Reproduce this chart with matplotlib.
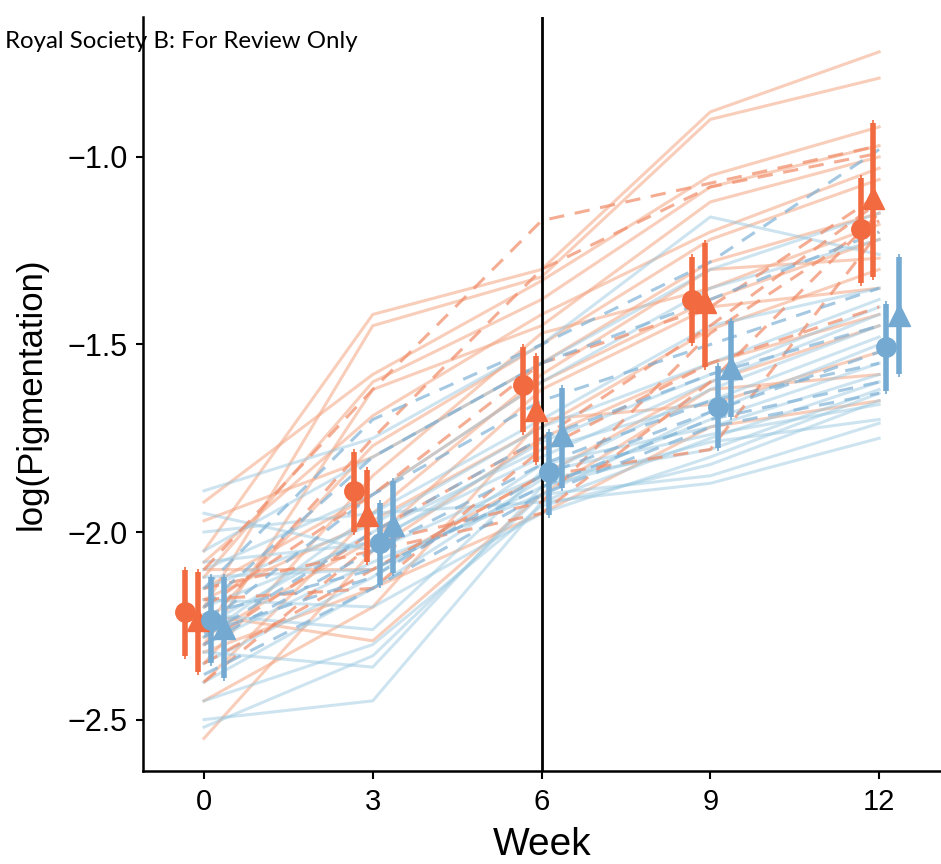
import matplotlib
matplotlib.use("Agg")
import matplotlib.pyplot as plt
from matplotlib import font_manager as fm

weeks = [0, 3, 6, 9, 12]

# individual trajectories, values at weeks 0, 3, 6, 9, 12
orange_solid = [
    [-2.05, -1.42, -1.30, -0.88, -0.72],
    [-2.20, -1.45, -1.32, -0.90, -0.79],
    [-1.92, -1.58, -1.33, -1.05, -0.92],
    [-2.12, -1.60, -1.38, -1.08, -0.97],
    [-2.30, -1.62, -1.45, -1.12, -1.00],
    [-2.08, -1.69, -1.42, -1.20, -1.03],
    [-2.25, -1.77, -1.50, -1.22, -1.06],
    [-1.97, -1.80, -1.55, -1.28, -1.15],
    [-2.35, -1.85, -1.47, -1.35, -1.18],
    [-2.15, -1.90, -1.60, -1.38, -1.22],
    [-2.40, -1.95, -1.58, -1.30, -1.27],
    [-2.18, -1.97, -1.72, -1.46, -1.30],
    [-2.28, -2.02, -1.62, -1.40, -1.35],
    [-2.55, -2.05, -1.75, -1.55, -1.42],
    [-2.10, -2.10, -1.85, -1.60, -1.45],
    [-2.45, -2.20, -1.70, -1.66, -1.52],
    [-2.22, -2.29, -1.90, -1.62, -1.58],
    [-2.32, -2.15, -1.95, -1.72, -1.65],
]
orange_dashed = [
    [-2.10, -1.62, -1.17, -1.07, -0.97],
    [-2.25, -1.75, -1.30, -1.08, -0.99],
    [-2.20, -1.90, -1.55, -1.40, -1.10],
    [-2.30, -2.00, -1.75, -1.45, -1.12],
    [-2.15, -2.05, -1.95, -1.60, -1.15],
    [-2.35, -2.10, -1.85, -1.78, -1.20],
    [-2.18, -2.15, -1.78, -1.55, -1.40],
    [-2.40, -2.03, -1.92, -1.47, -1.17],
]
blue_solid = [
    [-1.89, -1.75, -1.50, -1.16, -1.26],
    [-2.05, -1.80, -1.55, -1.30, -1.15],
    [-2.10, -1.90, -1.60, -1.35, -1.22],
    [-2.00, -1.95, -1.70, -1.45, -1.35],
    [-2.15, -1.98, -1.72, -1.55, -1.38],
    [-2.20, -2.02, -1.80, -1.60, -1.42],
    [-1.95, -2.05, -1.85, -1.62, -1.45],
    [-2.25, -2.00, -1.78, -1.65, -1.48],
    [-2.30, -2.08, -1.90, -1.68, -1.50],
    [-2.12, -2.10, -1.88, -1.70, -1.55],
    [-2.35, -2.12, -1.82, -1.72, -1.58],
    [-2.28, -1.95, -1.92, -1.75, -1.60],
    [-2.40, -2.15, -1.86, -1.78, -1.62],
    [-2.18, -2.20, -1.95, -1.80, -1.63],
    [-2.45, -2.30, -1.93, -1.82, -1.65],
    [-2.32, -2.36, -1.88, -1.76, -1.70],
    [-2.50, -2.45, -1.92, -1.87, -1.75],
    [-2.52, -2.33, -1.90, -1.85, -1.71],
    [-2.22, -2.26, -1.84, -1.74, -1.66],
    [-2.08, -2.03, -1.76, -1.58, -1.40],
]
blue_dashed = [
    [-2.15, -1.70, -1.50, -1.28, -0.98],
    [-2.20, -1.80, -1.55, -1.38, -1.20],
    [-2.25, -1.90, -1.65, -1.50, -1.35],
    [-2.28, -2.00, -1.75, -1.58, -1.45],
    [-2.30, -2.05, -1.82, -1.65, -1.55],
    [-2.22, -2.10, -1.88, -1.70, -1.60],
    [-2.38, -2.15, -1.90, -1.72, -1.63],
    [-2.27, -2.12, -1.85, -1.68, -1.52],
]

# group means and interval ends
mean_orange_circle = [-2.213, -1.891, -1.608, -1.381, -1.192]
lo_orange_circle = [-2.33, -2.00, -1.733, -1.496, -1.336]
hi_orange_circle = [-2.10, -1.787, -1.507, -1.267, -1.056]

mean_orange_tri = [-2.235, -1.955, -1.675, -1.387, -1.109]
lo_orange_tri = [-2.373, -2.08, -1.813, -1.56, -1.32]
hi_orange_tri = [-2.107, -1.835, -1.53, -1.229, -0.909]

mean_blue_circle = [-2.235, -2.029, -1.84, -1.667, -1.507]
lo_blue_circle = [-2.35, -2.141, -1.955, -1.776, -1.624]
hi_blue_circle = [-2.12, -1.923, -1.733, -1.557, -1.392]

mean_blue_tri = [-2.256, -1.98, -1.74, -1.563, -1.421]
lo_blue_tri = [-2.39, -2.109, -1.883, -1.693, -1.579]
hi_blue_tri = [-2.12, -1.864, -1.616, -1.437, -1.267]

ORANGE = "#f26b40"
BLUE = "#74aad2"
LIGHT_ORANGE = "#f4a582"
LIGHT_BLUE = "#92c5de"

names = {f.name for f in fm.fontManager.ttflist}
narrow = "Liberation Sans Narrow" if "Liberation Sans Narrow" in names else "Liberation Sans"

plt.rcParams["font.family"] = ["Liberation Sans", "DejaVu Sans"]

fig = plt.figure(figsize=(9.41, 8.64), dpi=100)
ax = fig.add_axes([143 / 941, 93 / 864, 1 - 143 / 941, (771 - 17) / 864])

for row in orange_solid:
    ax.plot(weeks, row, color=LIGHT_ORANGE, alpha=0.55, lw=2.2, zorder=2)
for row in blue_solid:
    ax.plot(weeks, row, color=LIGHT_BLUE, alpha=0.45, lw=2.2, zorder=2)
for row in orange_dashed:
    ax.plot(weeks, row, color="#f08a66", alpha=0.7, lw=2.2, ls=(0, (5, 3.5)), zorder=3)
for row in blue_dashed:
    ax.plot(weeks, row, color="#7fb2d6", alpha=0.7, lw=2.2, ls=(0, (5, 3.5)), zorder=3)

ax.axvline(6, color="black", lw=2, zorder=4)


def draw_group(offset, mean, lo, hi, color, marker, size):
    xs = [w + offset for w in weeks]
    ext = 0.008
    ax.vlines(xs, [v - ext for v in lo], [v + ext for v in hi], color=color, lw=1.2, zorder=5)
    ax.vlines(xs, lo, hi, color=color, lw=4, zorder=5)
    ax.plot(xs, mean, ls="none", marker=marker, ms=size, color=color, mec=color, zorder=6)


draw_group(-0.33, mean_orange_circle, lo_orange_circle, hi_orange_circle, ORANGE, "o", 14)
draw_group(-0.10, mean_orange_tri, lo_orange_tri, hi_orange_tri, ORANGE, "^", 16)
draw_group(0.13, mean_blue_circle, lo_blue_circle, hi_blue_circle, BLUE, "o", 14)
draw_group(0.36, mean_blue_tri, lo_blue_tri, hi_blue_tri, BLUE, "^", 16)

ax.set_xlim(-1.084, 13.1)
ax.set_ylim(-2.637, -0.627)
ax.set_xticks(weeks)
ax.set_yticks([-2.5, -2.0, -1.5, -1.0])
ax.set_yticklabels(["\u22122.5", "\u22122.0", "\u22121.5", "\u22121.0"])

for side in ["top", "right"]:
    ax.spines[side].set_visible(False)
for side in ["left", "bottom"]:
    ax.spines[side].set_linewidth(1.8)

ax.tick_params(axis="y", direction="out", length=5, width=1.5, labelsize=22, pad=6)
ax.tick_params(axis="x", direction="out", length=6, width=1.5, labelsize=21, pad=6)
for lab in ax.get_xticklabels():
    lab.set_family(narrow)

ax.set_ylabel("log(Pigmentation)", fontsize=25, labelpad=14)
ax.set_xlabel("Week", fontsize=28, family=narrow, labelpad=8)

fig.text(5 / 941, 1 - 42 / 864, "Royal Society B: For Review Only",
         fontsize=17.3, family=["Lato", "DejaVu Sans"], va="center", ha="left")

fig.savefig("out.png", dpi=100)
